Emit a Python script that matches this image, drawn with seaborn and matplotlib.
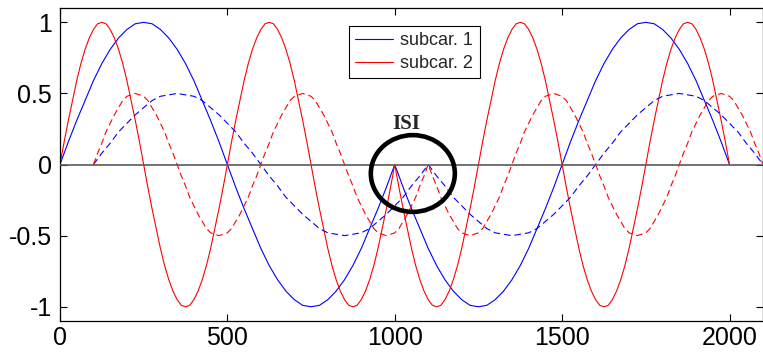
import numpy as np
import pandas as pd
import matplotlib
matplotlib.use('Agg')
import matplotlib.pyplot as plt
from matplotlib.patches import Ellipse
import seaborn as sns

# muestras (subcar. 1 cada 25, subcar. 2 cada 12.5)
x_sub1 = np.arange(0, 2000.1, 25)
x_eco1 = np.arange(100, 2100.1, 25)
x_sub2 = np.arange(0, 2000.1, 12.5)
x_eco2 = np.arange(100, 2100.1, 12.5)

sub1 = [0, .16, .31, .45, .59, .71, .81, .89, .95, .99, 1, .99, .95, .89, .81, .71, .59, .45, .31, .16,
        0, -.16, -.31, -.45, -.59, -.71, -.81, -.89, -.95, -.99, -1, -.99, -.95, -.89, -.81, -.71, -.59, -.45, -.31, -.16,
        0, -.16, -.31, -.45, -.59, -.71, -.81, -.89, -.95, -.99, -1, -.99, -.95, -.89, -.81, -.71, -.59, -.45, -.31, -.16,
        0, .16, .31, .45, .59, .71, .81, .89, .95, .99, 1, .99, .95, .89, .81, .71, .59, .45, .31, .16, 0]

sub2 = [0, .16, .31, .45, .59, .71, .81, .89, .95, .99, 1, .99, .95, .89, .81, .71, .59, .45, .31, .16,
        0, -.16, -.31, -.45, -.59, -.71, -.81, -.89, -.95, -.99, -1, -.99, -.95, -.89, -.81, -.71, -.59, -.45, -.31, -.16,
        0, .16, .31, .45, .59, .71, .81, .89, .95, .99, 1, .99, .95, .89, .81, .71, .59, .45, .31, .16,
        0, -.16, -.31, -.45, -.59, -.71, -.81, -.89, -.95, -.99, -1, -.99, -.95, -.89, -.81, -.71, -.59, -.45, -.31, -.16,
        0, -.16, -.31, -.45, -.59, -.71, -.81, -.89, -.95, -.99, -1, -.99, -.95, -.89, -.81, -.71, -.59, -.45, -.31, -.16,
        0, .16, .31, .45, .59, .71, .81, .89, .95, .99, 1, .99, .95, .89, .81, .71, .59, .45, .31, .16,
        0, -.16, -.31, -.45, -.59, -.71, -.81, -.89, -.95, -.99, -1, -.99, -.95, -.89, -.81, -.71, -.59, -.45, -.31, -.16,
        0, .16, .31, .45, .59, .71, .81, .89, .95, .99, 1, .99, .95, .89, .81, .71, .59, .45, .31, .16, 0]

eco1 = [0, .08, .15, .23, .29, .35, .40, .45, .48, .49, .5, .49, .48, .45, .40, .35, .29, .23, .15, .08,
        0, -.08, -.15, -.23, -.29, -.35, -.40, -.45, -.48, -.49, -.5, -.49, -.48, -.45, -.40, -.35, -.29, -.23, -.15, -.08,
        0, -.08, -.15, -.23, -.29, -.35, -.40, -.45, -.48, -.49, -.5, -.49, -.48, -.45, -.40, -.35, -.29, -.23, -.15, -.08,
        0, .08, .15, .23, .29, .35, .40, .45, .48, .49, .5, .49, .48, .45, .40, .35, .29, .23, .15, .08, 0]

eco2 = [0, .08, .15, .23, .29, .35, .40, .45, .48, .49, .5, .49, .48, .45, .40, .35, .29, .23, .15, .08,
        0, -.08, -.15, -.23, -.29, -.35, -.40, -.45, -.48, -.49, -.5, -.49, -.48, -.45, -.40, -.35, -.29, -.23, -.15, -.08,
        0, .08, .15, .23, .29, .35, .40, .45, .48, .49, .5, .49, .48, .45, .40, .35, .29, .23, .15, .08,
        0, -.08, -.15, -.23, -.29, -.35, -.40, -.45, -.48, -.49, -.5, -.49, -.48, -.45, -.40, -.35, -.29, -.23, -.15, -.08,
        0, -.08, -.15, -.23, -.29, -.35, -.40, -.45, -.48, -.49, -.5, -.49, -.48, -.45, -.40, -.35, -.29, -.23, -.15, -.08,
        0, .08, .15, .23, .29, .35, .40, .45, .48, .49, .5, .49, .48, .45, .40, .35, .29, .23, .15, .08,
        0, -.08, -.15, -.23, -.29, -.35, -.40, -.45, -.48, -.49, -.5, -.49, -.48, -.45, -.40, -.35, -.29, -.23, -.15, -.08,
        0, .08, .15, .23, .29, .35, .40, .45, .48, .49, .5, .49, .48, .45, .40, .35, .29, .23, .15, .08, 0]

etiquetas = ['subcar. 1', 'subcar. 2']
x_ticks = [0, 500, 1000, 1500, 2000]
y_ticks = [-1, -0.5, 0, 0.5, 1]
y_ticklabels = ['-1', '-0.5', '0', '0.5', '1']

sns.set_style('ticks')
plt.rcParams['font.family'] = ['Liberation Sans', 'DejaVu Sans']
plt.rcParams['axes.unicode_minus'] = False

fig = plt.figure(figsize=(7.63, 3.53), dpi=100)
ax = fig.add_axes([0.0786, 0.0907, 0.9214, 0.8863])

guion = (0, (6, 3.5))
sns.lineplot(x=x_sub1, y=sub1, color='#0000ff', lw=0.8, label=etiquetas[0], sort=False, ax=ax)
sns.lineplot(x=x_sub2, y=sub2, color='#ff0000', lw=0.8, label=etiquetas[1], sort=False, ax=ax)
sns.lineplot(x=x_eco1, y=eco1, color='#0000ff', lw=0.8, linestyle=guion, legend=False, sort=False, ax=ax)
sns.lineplot(x=x_eco2, y=eco2, color='#ff0000', lw=0.8, linestyle=guion, legend=False, sort=False, ax=ax)

ax.axhline(0, color='#5a5a5a', lw=1.2, zorder=3)

# marca de ISI
ax.add_patch(Ellipse((1054, -0.063), 251, 0.54, fill=False, ec='k', lw=3.3, zorder=4))
ax.text(1033, 0.285, 'ISI', family=['Liberation Serif'], fontweight='bold', fontsize=15,
        ha='center', va='center')

ax.set_xlim(0, 2100)
ax.set_ylim(-1.1, 1.1)
ax.set_xticks(x_ticks)
ax.set_yticks(y_ticks)
ax.set_yticklabels(y_ticklabels)
ax.tick_params(direction='in', length=5, width=0.8, top=True, right=True,
               labelsize=18, colors='k')
ax.tick_params(axis='x', pad=3.8)
ax.tick_params(axis='y', pad=6)
for s in ax.spines.values():
    s.set_color('k')
    s.set_linewidth(0.9)

leg = ax.legend(loc='upper left', bbox_to_anchor=(0.411, 0.9425), borderaxespad=0,
                fontsize=13, handlelength=2.1, handletextpad=0.4, borderpad=0.35,
                labelspacing=0.3, fancybox=False, framealpha=1, edgecolor='k')
leg.get_frame().set_linewidth(0.8)

fig.savefig('out.png', dpi=100)
